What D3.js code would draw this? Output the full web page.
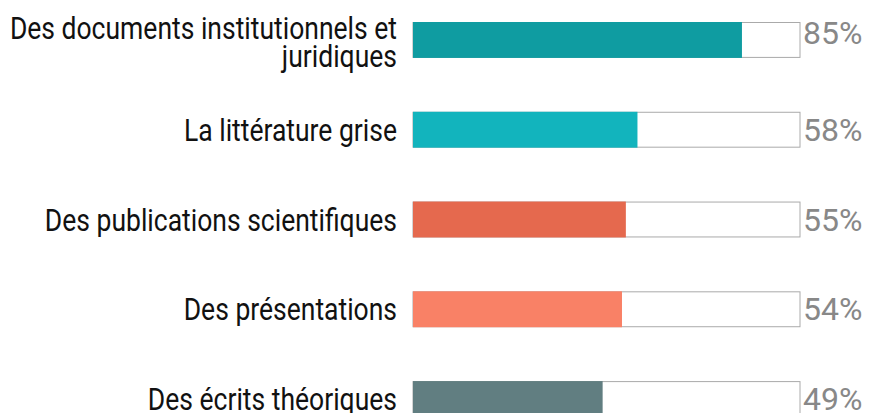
<!DOCTYPE html>
<html>
<head>
<meta charset="utf-8">
<script src="https://cdn.jsdelivr.net/npm/d3@7"></script>
<style>
	body { margin: 0; background: #fff; }
	text { font-family: Roboto, sans-serif; }
</style>
</head>
<body>
<div class="canvas"></div>
<script>
// data
const categories = [
	['Des documents institutionnels et', 'juridiques'],
	['La littérature grise'],
	['Des publications scientifiques'],
	['Des présentations'],
	['Des écrits théoriques']
];
const values = [85, 58, 55, 54, 49];
const colors = ['#0f9ca1', '#12b4bd', '#e5694e', '#f98166', '#617e81'];

const width = 869;
const height = 413;

const svg = d3.select('.canvas').append('svg')
	.attr('width', width)
	.attr('height', height);

const keys = categories.map(c => c.join(' '));

const x = d3.scaleLinear()
	.domain([0, 100])
	.range([413, 800]);

const y = d3.scaleBand()
	.domain(keys)
	.range([22, 417])
	.paddingInner(0.6)
	.paddingOuter(0);

const rows = svg.selectAll('g.row')
	.data(values.map((v, i) => ({key: keys[i], lines: categories[i], value: v, color: colors[i]})))
	.enter()
	.append('g')
	.attr('class', 'row');

// background box
rows.append('rect')
	.attr('x', x(0))
	.attr('y', d => y(d.key) + 0.5)
	.attr('width', x(100) - x(0))
	.attr('height', y.bandwidth() - 1)
	.attr('fill', '#fff')
	.attr('stroke', '#aaa')
	.attr('stroke-width', 1);

// value bar
rows.append('rect')
	.attr('x', x(0))
	.attr('y', d => y(d.key))
	.attr('width', d => x(d.value) - x(0))
	.attr('height', y.bandwidth())
	.attr('fill', d => d.color);

// category labels (condensed look via horizontal scale)
rows.append('text')
	.attr('text-anchor', 'end')
	.attr('transform', d => {
		const base = y(d.key) + y.bandwidth() / 2 + (d.lines.length > 1 ? -0.5 : 11);
		return `translate(397, ${base}) scale(0.855, 1)`;
	})
	.attr('font-size', 31)
	.attr('fill', '#111')
	.selectAll('tspan')
	.data(d => d.lines)
	.enter()
	.append('tspan')
	.attr('x', 0)
	.attr('dy', (d, i) => i ? 27.5 : 0)
	.text(d => d);

// percent labels
rows.append('text')
	.attr('x', 803)
	.attr('y', d => y(d.key) + y.bandwidth() / 2 + (d.lines.length > 1 ? 4 : 11))
	.attr('font-size', 32)
	.attr('fill', '#888')
	.text(d => d.value + '%');
</script>
</body>
</html>
